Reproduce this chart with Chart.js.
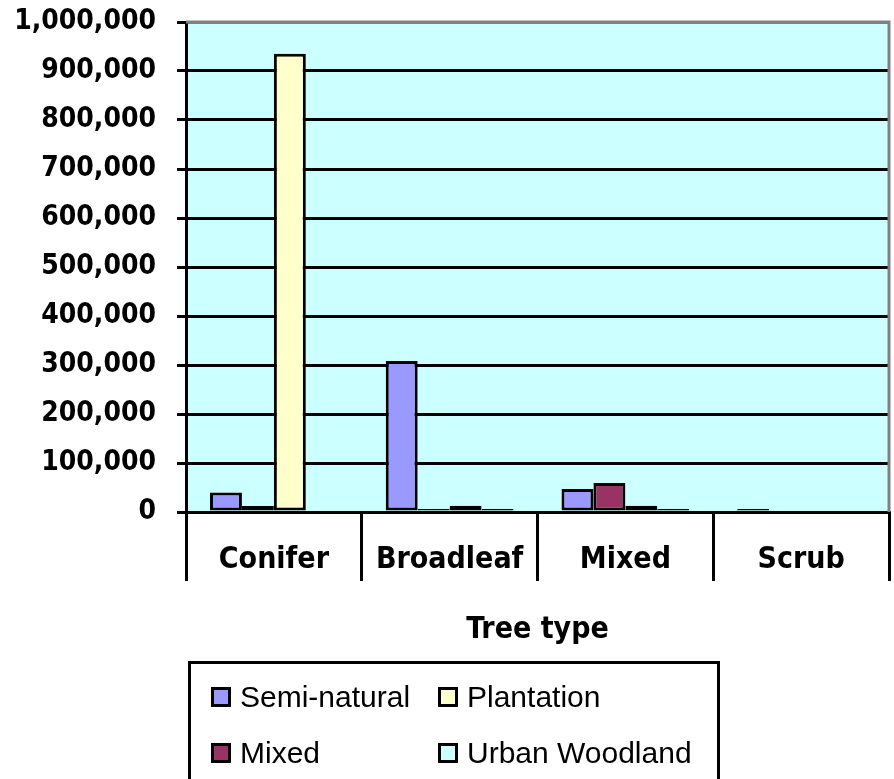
<!DOCTYPE html>
<html>
<head>
<meta charset="utf-8">
<script src="https://cdn.jsdelivr.net/npm/chart.js@4/dist/chart.umd.min.js"></script>
<style>
html,body{margin:0;padding:0;background:#fff;}
canvas{display:block;}
</style>
</head>
<body>
<canvas id="c" width="894" height="779"></canvas>
<script>
const categories = ['Conifer', 'Broadleaf', 'Mixed', 'Scrub'];
const seriesNames = ['Semi-natural', 'Mixed', 'Plantation', 'Urban Woodland'];
const semiNatural = [40000, 308000, 47000, 6000];
const mixedWood = [12000, 6000, 59000, 0];
const plantation = [935000, 13000, 13000, 0];
const urbanWoodland = [0, 6000, 6000, 0];
const yMin = 0, yMax = 1000000, yStep = 100000;
const axisTitle = 'Tree type';

const seriesColors = ['#9999FF', '#993366', '#FFFFCC', '#CCFFFF'];
const seriesValues = [semiNatural, mixedWood, plantation, urbanWoodland];

const BOLD = "'DejaVu Sans Condensed', 'Liberation Sans', Arial, sans-serif";

const plotBg = {
  id: 'plotBg',
  beforeDraw(chart) {
    const {ctx, chartArea: a} = chart;
    ctx.save();
    ctx.fillStyle = '#CCFFFF';
    ctx.fillRect(a.left, a.top, a.right - a.left, a.bottom - a.top);
    ctx.restore();
  },
  beforeDatasetsDraw(chart) {
    const {ctx, chartArea: a} = chart;
    ctx.save();
    ctx.strokeStyle = '#808080';
    ctx.lineWidth = 3;
    ctx.beginPath();
    ctx.moveTo(a.left, a.top);
    ctx.lineTo(a.right, a.top);
    ctx.lineTo(a.right, a.bottom);
    ctx.stroke();
    ctx.restore();
  }
};

const boxLegend = {
  id: 'boxLegend',
  afterDraw(chart) {
    const ctx = chart.ctx;
    ctx.save();
    ctx.strokeStyle = '#000';
    ctx.lineWidth = 3;
    ctx.strokeRect(189.5, 662.5, 529, 130);
    const colX = [211, 438];
    const rowY = [687, 743];
    ctx.font = "30px 'Liberation Sans', Arial, sans-serif";
    ctx.textBaseline = 'alphabetic';
    ctx.textAlign = 'left';
    chart.data.datasets.forEach((ds, i) => {
      const col = Math.floor(i / 2), row = i % 2;
      const x = colX[col], y = rowY[row];
      ctx.fillStyle = ds.backgroundColor;
      ctx.fillRect(x, y, 20, 20);
      ctx.strokeStyle = '#000';
      ctx.lineWidth = 3;
      ctx.strokeRect(x + 1.5, y + 1.5, 17, 17);
      ctx.fillStyle = '#000';
      ctx.fillText(ds.label, x + 29, y + 20);
    });
    ctx.restore();
  }
};

new Chart(document.getElementById('c'), {
  type: 'bar',
  data: {
    labels: categories,
    datasets: seriesNames.map((name, i) => ({
      label: name,
      data: seriesValues[i],
      backgroundColor: seriesColors[i],
      borderColor: '#000',
      borderWidth: 3,
      borderSkipped: false,
      categoryPercentage: 0.727,
      barPercentage: 1.0
    }))
  },
  plugins: [plotBg, boxLegend],
  options: {
    responsive: false,
    animation: false,
    devicePixelRatio: 1,
    layout: { padding: { left: 0, right: 5, top: 22, bottom: 131 } },
    plugins: {
      legend: { display: false },
      tooltip: { enabled: false },
      title: { display: false }
    },
    scales: {
      x: {
        offset: true,
        afterFit(scale) {
          scale.height = 136;
          scale.paddingLeft = 0; scale.paddingRight = 0;
        },
        grid: {
          offset: true,
          display: true,
          drawOnChartArea: false,
          drawTicks: true,
          tickLength: 69,
          color: '#000',
          lineWidth: 3
        },
        border: { display: true, color: '#000', width: 3 },
        ticks: {
          color: '#000',
          padding: -39,
          maxRotation: 0,
          autoSkip: false,
          font: { family: BOLD, size: 30, weight: 'bold' }
        },
        title: {
          display: true,
          text: axisTitle,
          color: '#000',
          font: { family: BOLD, size: 30, weight: 'bold' },
          padding: { top: 34, bottom: 0 }
        }
      },
      y: {
        min: yMin,
        max: yMax,
        afterFit(scale) {
          scale.width = 186;
          scale.paddingTop = 0; scale.paddingBottom = 0;
        },
        grid: {
          color: (c) => (c.tick && c.tick.value === yMax) ? '#808080' : '#000',
          tickColor: '#000',
          lineWidth: 3,
          tickLength: 9,
          drawTicks: true
        },
        border: { display: true, color: '#000', width: 3 },
        ticks: {
          stepSize: yStep,
          color: '#000',
          padding: 21,
          font: { family: BOLD, size: 28, weight: 'bold' },
          callback: (v) => Number(v).toLocaleString('en-US')
        }
      }
    }
  }
});
</script>
</body>
</html>
